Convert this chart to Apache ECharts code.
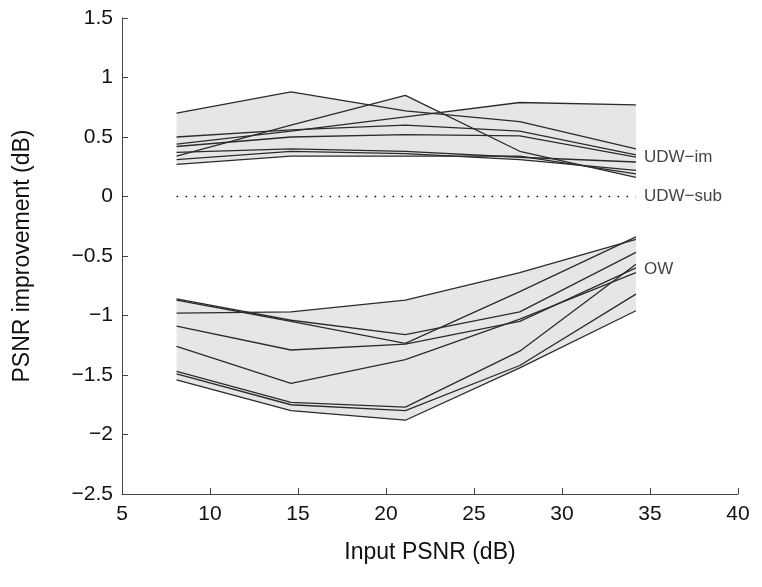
<!DOCTYPE html>
<html>
<head>
<meta charset="utf-8">
<script src="https://cdn.jsdelivr.net/npm/echarts@6/dist/echarts.min.js"></script>
<style>
  html, body { margin: 0; padding: 0; background: #fff; }
  #chart { width: 762px; height: 587px; }
</style>
</head>
<body>
<div id="chart"></div>
<script>
// input PSNR values (dB) where each image was measured
const inputPsnr = [8.1, 14.6, 21.1, 27.6, 34.2]

// PSNR improvement, one row per test image
const udwIm = [
  [0.70, 0.88, 0.72, 0.63, 0.40],
  [0.34, 0.60, 0.85, 0.38, 0.16],
  [0.44, 0.55, 0.67, 0.79, 0.77],
  [0.50, 0.56, 0.60, 0.55, 0.35],
  [0.42, 0.50, 0.52, 0.51, 0.33],
  [0.37, 0.40, 0.38, 0.33, 0.29],
  [0.31, 0.38, 0.36, 0.31, 0.22],
  [0.27, 0.34, 0.34, 0.34, 0.19]
]
const ow = [
  [-0.98, -0.97, -0.87, -0.64, -0.36],
  [-0.86, -1.04, -1.16, -0.97, -0.47],
  [-0.87, -1.05, -1.235, -0.80, -0.34],
  [-1.09, -1.29, -1.24, -1.05, -0.60],
  [-1.26, -1.57, -1.37, -1.03, -0.64],
  [-1.47, -1.73, -1.77, -1.30, -0.57],
  [-1.49, -1.75, -1.80, -1.42, -0.82],
  [-1.54, -1.80, -1.88, -1.44, -0.96]
]
const udwSub = [0, 0, 0, 0, 0]

// text labels at the right end of each group
const groupNames = ['UDW\u2212im', 'UDW\u2212sub', 'OW']
const groupLabelY = [0.33, 0, -0.61]

const xTicks = [5, 10, 15, 20, 25, 30, 35, 40]
const yTicks = [-2.5, -2, -1.5, -1, -0.5, 0, 0.5, 1, 1.5]

const font = 'Liberation Sans, Arial, Helvetica, sans-serif'
const lineColor = '#2b2b2b'
const bandColor = '#e6e6e6'

const pairs = ys => inputPsnr.map((x, i) => [x, ys[i]])

// upper / lower envelope of a group of polylines, crossings included
const envelope = rows => {
  const top = [], bottom = []
  for (let i = 0; i < inputPsnr.length - 1; i++) {
    const ts = [0, 1]
    rows.forEach((a, j) => rows.forEach((b, k) => {
      if (k <= j) return
      const d0 = a[i] - b[i], d1 = a[i + 1] - b[i + 1]
      if (d0 * d1 < 0) ts.push(d0 / (d0 - d1))
    }))
    ts.sort((p, q) => p - q)
    ts.forEach(t => {
      if (i > 0 && t === 0) return
      const x = inputPsnr[i] + t * (inputPsnr[i + 1] - inputPsnr[i])
      const vals = rows.map(r => r[i] + t * (r[i + 1] - r[i]))
      top.push([x, Math.max(...vals)])
      bottom.push([x, Math.min(...vals)])
    })
  }
  return { top, bottom }
}

// grey band between the envelopes of a group
const bandSeries = rows => {
  const env = envelope(rows)
  return {
    type: 'custom', silent: true, z: 1,
    data: [env.top[0]],
    renderItem: (params, api) => {
      const pts = env.top.map(p => api.coord(p))
        .concat(env.bottom.map(p => api.coord(p)).reverse())
      return {
        type: 'polygon',
        shape: { points: pts },
        style: { fill: bandColor }
      }
    }
  }
}

const lineSeries = rows => rows.map(r => ({
  type: 'line', symbol: 'none', silent: true, z: 3,
  data: pairs(r),
  lineStyle: { color: lineColor, width: 1.3 }
}))

const chart = echarts.init(document.getElementById('chart'))

const minus = v => String(v).replace('-', '\u2212')

const option = {
  animation: false,
  backgroundColor: '#fff',
  grid: { left: 122, right: 24, top: 18, bottom: 93 },
  xAxis: {
    type: 'value', min: xTicks[0], max: xTicks[xTicks.length - 1], interval: 5,
    name: 'Input PSNR (dB)', nameLocation: 'middle', nameGap: 47,
    nameTextStyle: { fontFamily: font, fontSize: 23, color: '#111' },
    axisLine: { show: true, onZero: false, lineStyle: { color: '#444', width: 1 } },
    axisTick: { show: true, inside: true, length: 6, lineStyle: { color: '#444' } },
    axisLabel: { fontFamily: font, fontSize: 21, color: '#111', margin: 10, formatter: minus },
    splitLine: { show: false }
  },
  yAxis: {
    type: 'value', min: yTicks[0], max: yTicks[yTicks.length - 1], interval: 0.5,
    name: 'PSNR improvement (dB)', nameLocation: 'middle', nameGap: 88, nameRotate: 90,
    nameTextStyle: { fontFamily: font, fontSize: 23, color: '#111' },
    axisLine: { show: true, onZero: false, lineStyle: { color: '#444', width: 1 } },
    axisTick: { show: true, inside: true, length: 6, lineStyle: { color: '#444' } },
    axisLabel: { fontFamily: font, fontSize: 21, color: '#111', margin: 9, formatter: minus },
    splitLine: { show: false }
  },
  series: [
    bandSeries(udwIm),
    bandSeries(ow),
    ...lineSeries(udwIm),
    ...lineSeries(ow),
    {
      type: 'line', symbol: 'none', silent: true, z: 3,
      data: pairs(udwSub),
      lineStyle: { color: '#111', width: 1.6, type: [1.6, 7.4] }
    },
    {
      type: 'scatter', symbolSize: 0, silent: true, z: 4,
      data: groupNames.map((n, i) => ({ name: n, value: [inputPsnr[inputPsnr.length - 1], groupLabelY[i]] })),
      label: {
        show: true, position: 'right', distance: 8,
        formatter: p => p.name,
        fontFamily: font, fontSize: 17, color: '#111'
      }
    }
  ]
}

chart.setOption(option)
</script>
</body>
</html>
